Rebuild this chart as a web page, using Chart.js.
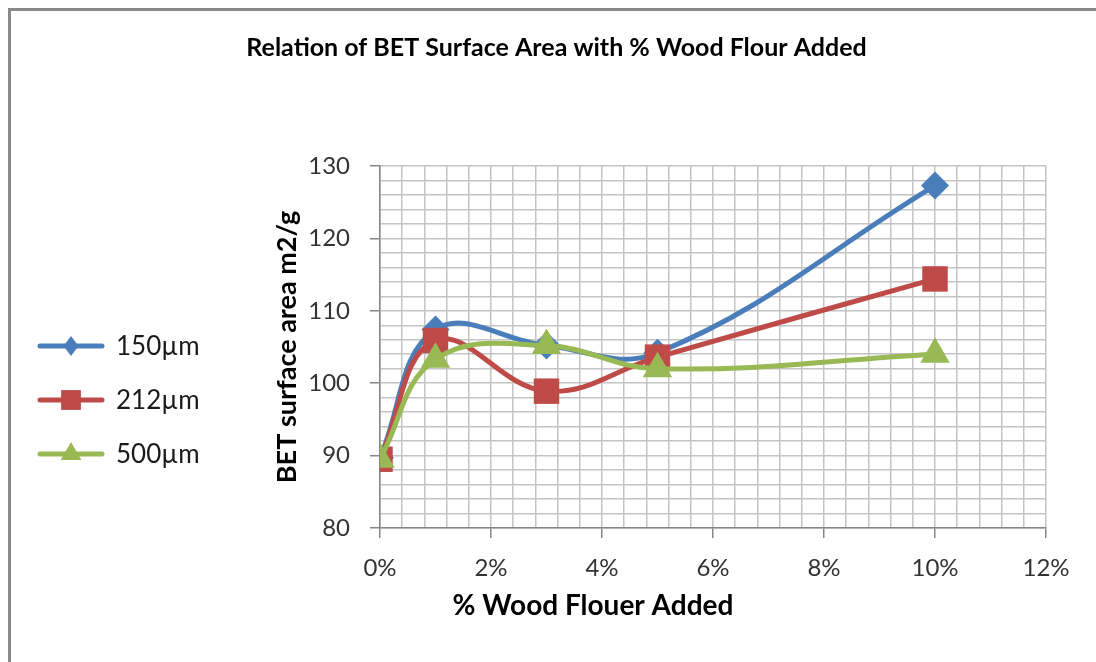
<!DOCTYPE html>
<html>
<head>
<meta charset="utf-8">
<script src="https://cdn.jsdelivr.net/npm/chart.js@4.4.1/dist/chart.umd.min.js"></script>
<style>
  html, body { margin: 0; padding: 0; background: #fff; }
  #wrap { position: relative; width: 1096px; height: 662px; overflow: hidden; }
  #frame { position: absolute; left: 8px; top: 8px; width: 1200px; height: 800px;
           border-left: 3px solid #8a8a8a; border-top: 3px solid #8a8a8a; pointer-events: none; }
  canvas { position: absolute; left: 0; top: 0; }
</style>
</head>
<body>
<div id="wrap">
  <canvas id="c" width="1096" height="662"></canvas>
  <div id="frame"></div>
</div>
<script>
// ---- data ----
const woodPercent = [0, 1, 3, 5, 10];
const seriesNames = ['150\u00b5m', '212\u00b5m', '500\u00b5m'];
const bet150 = [89.7, 107.4, 105.2, 104.2, 127.3];
const bet212 = [89.5, 105.9, 98.9, 103.6, 114.4];
const bet500 = [89.5, 103.3, 105.2, 102.0, 104.0];
const chartTitle = 'Relation of BET Surface Area with % Wood Flour Added';
const xTitle = '% Wood Flouer Added';
const yTitle = 'BET surface area m2/g';

const colors = ['#4A7EBB', '#BE4B48', '#98B954'];
const styles = ['rectRot', 'rect', 'triangle'];
const radii = [14, 18, 17];
const legendRadii = [10, 14, 12];

function toPts(vals) { return woodPercent.map((x, i) => ({ x: x, y: vals[i] })); }

const FONT = 'Lato, "Open Sans", sans-serif';

function drawMarker(ctx, style, r, x, y, color) {
  ctx.save();
  ctx.fillStyle = color;
  ctx.beginPath();
  if (style === 'rectRot') {
    ctx.moveTo(x, y - r); ctx.lineTo(x + r * 0.75, y); ctx.lineTo(x, y + r); ctx.lineTo(x - r * 0.75, y);
  } else if (style === 'rect') {
    const s = Math.SQRT1_2 * r;
    ctx.rect(x - s, y - s, 2 * s, 2 * s);
  } else {
    ctx.moveTo(x, y - r);
    ctx.lineTo(x + r * Math.sin(2 * Math.PI / 3), y - r * Math.cos(2 * Math.PI / 3));
    ctx.lineTo(x + r * Math.sin(4 * Math.PI / 3), y - r * Math.cos(4 * Math.PI / 3));
  }
  ctx.closePath();
  ctx.fill();
  ctx.restore();
}

const legendPlugin = {
  id: 'sideLegend',
  afterDraw(chart) {
    const ctx = chart.ctx;
    chart.data.datasets.forEach((ds, i) => {
      const y = 346 + i * 54;
      ctx.save();
      ctx.strokeStyle = ds.borderColor;
      ctx.lineWidth = 5;
      ctx.lineCap = 'round';
      ctx.beginPath(); ctx.moveTo(40, y); ctx.lineTo(102, y); ctx.stroke();
      ctx.restore();
      drawMarker(ctx, styles[i], legendRadii[i], 71, y, ds.borderColor);
      ctx.save();
      ctx.fillStyle = '#1a1a1a';
      ctx.font = '26px ' + FONT;
      ctx.textBaseline = 'middle';
      ctx.textAlign = 'left';
      ctx.fillText(ds.label, 116, y + 1);
      ctx.restore();
    });
    // x-axis title (offset from the plot centre as in the original)
    ctx.save();
    ctx.fillStyle = '#000';
    ctx.font = 'bold 28px ' + FONT;
    ctx.textBaseline = 'middle';
    ctx.textAlign = 'center';
    ctx.fillText(xTitle, 593, 606);
    ctx.restore();
  }
};

const datasets = [bet150, bet212, bet500].map((vals, i) => ({
  label: seriesNames[i],
  data: toPts(vals),
  borderColor: colors[i],
  backgroundColor: colors[i],
  borderWidth: 5,
  pointStyle: styles[i],
  pointRadius: radii[i],
  pointHoverRadius: radii[i],
  pointBorderWidth: 0,
  tension: 0.4,
  order: 3 - i,
  fill: false
}));

new Chart(document.getElementById('c'), {
  type: 'line',
  data: { datasets: datasets },
  plugins: [legendPlugin],
  options: {
    responsive: false,
    devicePixelRatio: 1,
    animation: false,
    layout: { padding: { left: 17, right: 0, top: 0, bottom: 0 } },
    plugins: {
      legend: { display: false },
      tooltip: { enabled: false },
      title: {
        display: true,
        text: chartTitle,
        color: '#000',
        font: { family: FONT, size: 25, weight: 'bold', lineHeight: 1.2 },
        padding: { top: 33, bottom: 103 }
      }
    },
    scales: {
      x: {
        type: 'linear',
        min: 0, max: 12,
        afterFit(s) { s.height = 134; },
        ticks: {
          stepSize: 0.4,
          autoSkip: false,
          maxRotation: 0,
          padding: 16,
          color: '#333',
          font: { family: FONT, size: 24 },
          callback(v) {
            const k = v / 2;
            return Math.abs(k - Math.round(k)) < 1e-6 ? Math.round(v) + '%' : '';
          }
        },
        grid: {
          color: '#c4c4c4',
          lineWidth: 1.5,
          tickLength: 10,
          tickWidth: 1.5,
          tickColor(c) {
            const v = c.tick ? c.tick.value : 0;
            const k = v / 2;
            return Math.abs(k - Math.round(k)) < 1e-6 ? '#868686' : 'rgba(0,0,0,0)';
          }
        },
        border: { color: '#868686', width: 1.5 },
        title: { display: false }
      },
      y: {
        type: 'linear',
        position: 'left',
        min: 80, max: 130,
        afterFit(s) { s.width = 363; },
        ticks: {
          stepSize: 2,
          autoSkip: false,
          padding: 20,
          color: '#333',
          font: { family: FONT, size: 24 },
          callback(v) { return Math.round(v) % 10 === 0 ? String(Math.round(v)) : ''; }
        },
        grid: {
          color: '#c4c4c4',
          lineWidth: 1.5,
          tickLength: 10,
          tickWidth: 1.5,
          tickColor(c) {
            const v = c.tick ? Math.round(c.tick.value) : 1;
            return v % 10 === 0 ? '#868686' : 'rgba(0,0,0,0)';
          }
        },
        border: { color: '#868686', width: 1.5 },
        title: {
          display: true,
          text: yTitle,
          color: '#000',
          font: { family: FONT, size: 27, weight: 'bold', lineHeight: 1.2 },
          padding: { top: 253.8, bottom: 0 }
        }
      },
      y2: {
        type: 'linear',
        position: 'right',
        afterFit(s) { s.width = 50; },
        ticks: { display: false },
        grid: { drawOnChartArea: false, drawTicks: false, display: false },
        border: { display: false }
      }
    }
  }
});
</script>
</body>
</html>
